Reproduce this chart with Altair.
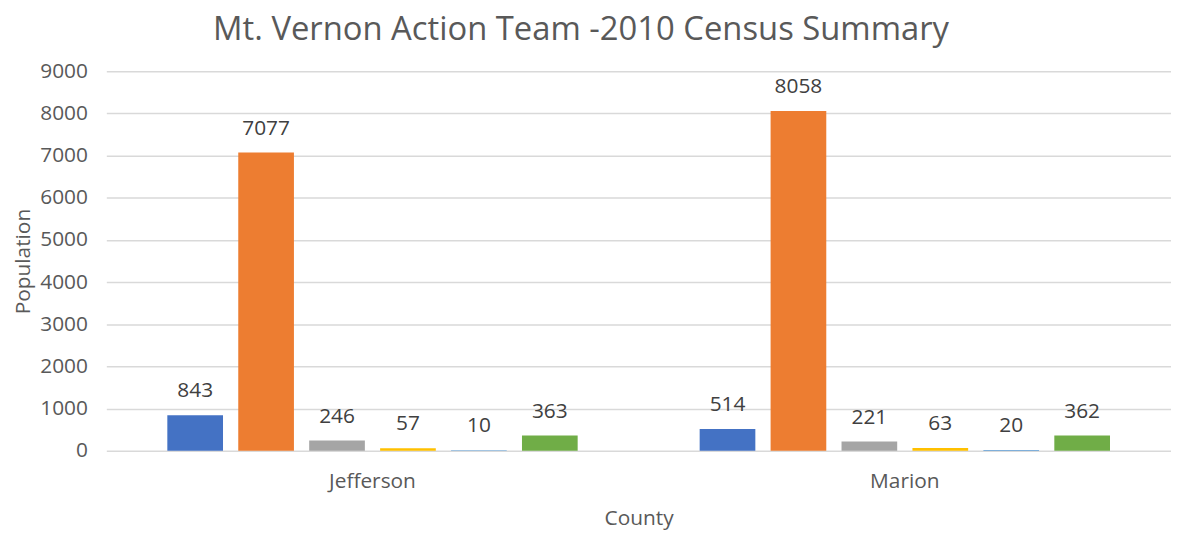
import altair as alt
import pandas as pd

counties = ["Jefferson", "Marion"]
series = ["S1", "S2", "S3", "S4", "S5", "S6"]
jefferson_values = [843, 7077, 246, 57, 10, 363]
marion_values = [514, 8058, 221, 63, 20, 362]
colors = ["#4472C4", "#ED7D31", "#A5A5A5", "#FFC000", "#5B9BD5", "#70AD47"]
y_ticks = [0, 1000, 2000, 3000, 4000, 5000, 6000, 7000, 8000, 9000]

rows = []
for c, vals in zip(counties, [jefferson_values, marion_values]):
    for s, v in zip(series, vals):
        rows.append({"County": c, "Series": s, "Population": v})
df = pd.DataFrame(rows)

FONT = "Open Sans"

x = alt.X("County:N", sort=counties, title="County",
          scale=alt.Scale(paddingInner=0, paddingOuter=0),
          axis=alt.Axis(labelAngle=0, ticks=False, domain=False, labelPadding=20,
                        labelFontSize=21, labelColor="#595959", labelFont=FONT,
                        titleFontSize=21, titleColor="#595959", titleFont=FONT,
                        titleFontWeight="normal", titlePadding=16))
xo = alt.XOffset("Series:N", sort=series,
                 scale=alt.Scale(paddingInner=0.215, paddingOuter=0.86))
y = alt.Y("Population:Q", title="Population",
          scale=alt.Scale(domain=[0, 9000], nice=False),
          axis=alt.Axis(values=y_ticks, format="d", ticks=False, domain=False,
                        labelPadding=19,
                        labelFontSize=21, labelColor="#595959", labelFont=FONT,
                        titleFontSize=21, titleColor="#595959", titleFont=FONT,
                        titleFontWeight="normal", titlePadding=6,
                        gridColor="#D9D9D9", gridWidth=1.5))

base = alt.Chart(df).encode(x=x, xOffset=xo, y=y)

bars = base.mark_bar().encode(
    color=alt.Color("Series:N", sort=series,
                    scale=alt.Scale(domain=series, range=colors), legend=None)
)
labels = base.mark_text(baseline="bottom", dy=-14, fontSize=21, color="#404040",
                        font=FONT).encode(text="Population:Q")

chart = (bars + labels).properties(
    width=1072, height=382,
    title=alt.TitleParams("Mt. Vernon Action Team -2010 Census Summary",
                          fontSize=33, font=FONT, fontWeight="normal",
                          color="#595959", offset=14, dx=-58),
    padding={"left": 4, "top": 4, "right": 0, "bottom": 0},
).configure_view(stroke=None)

chart.save("out.html", embed_options={"renderer": "svg", "actions": False})
